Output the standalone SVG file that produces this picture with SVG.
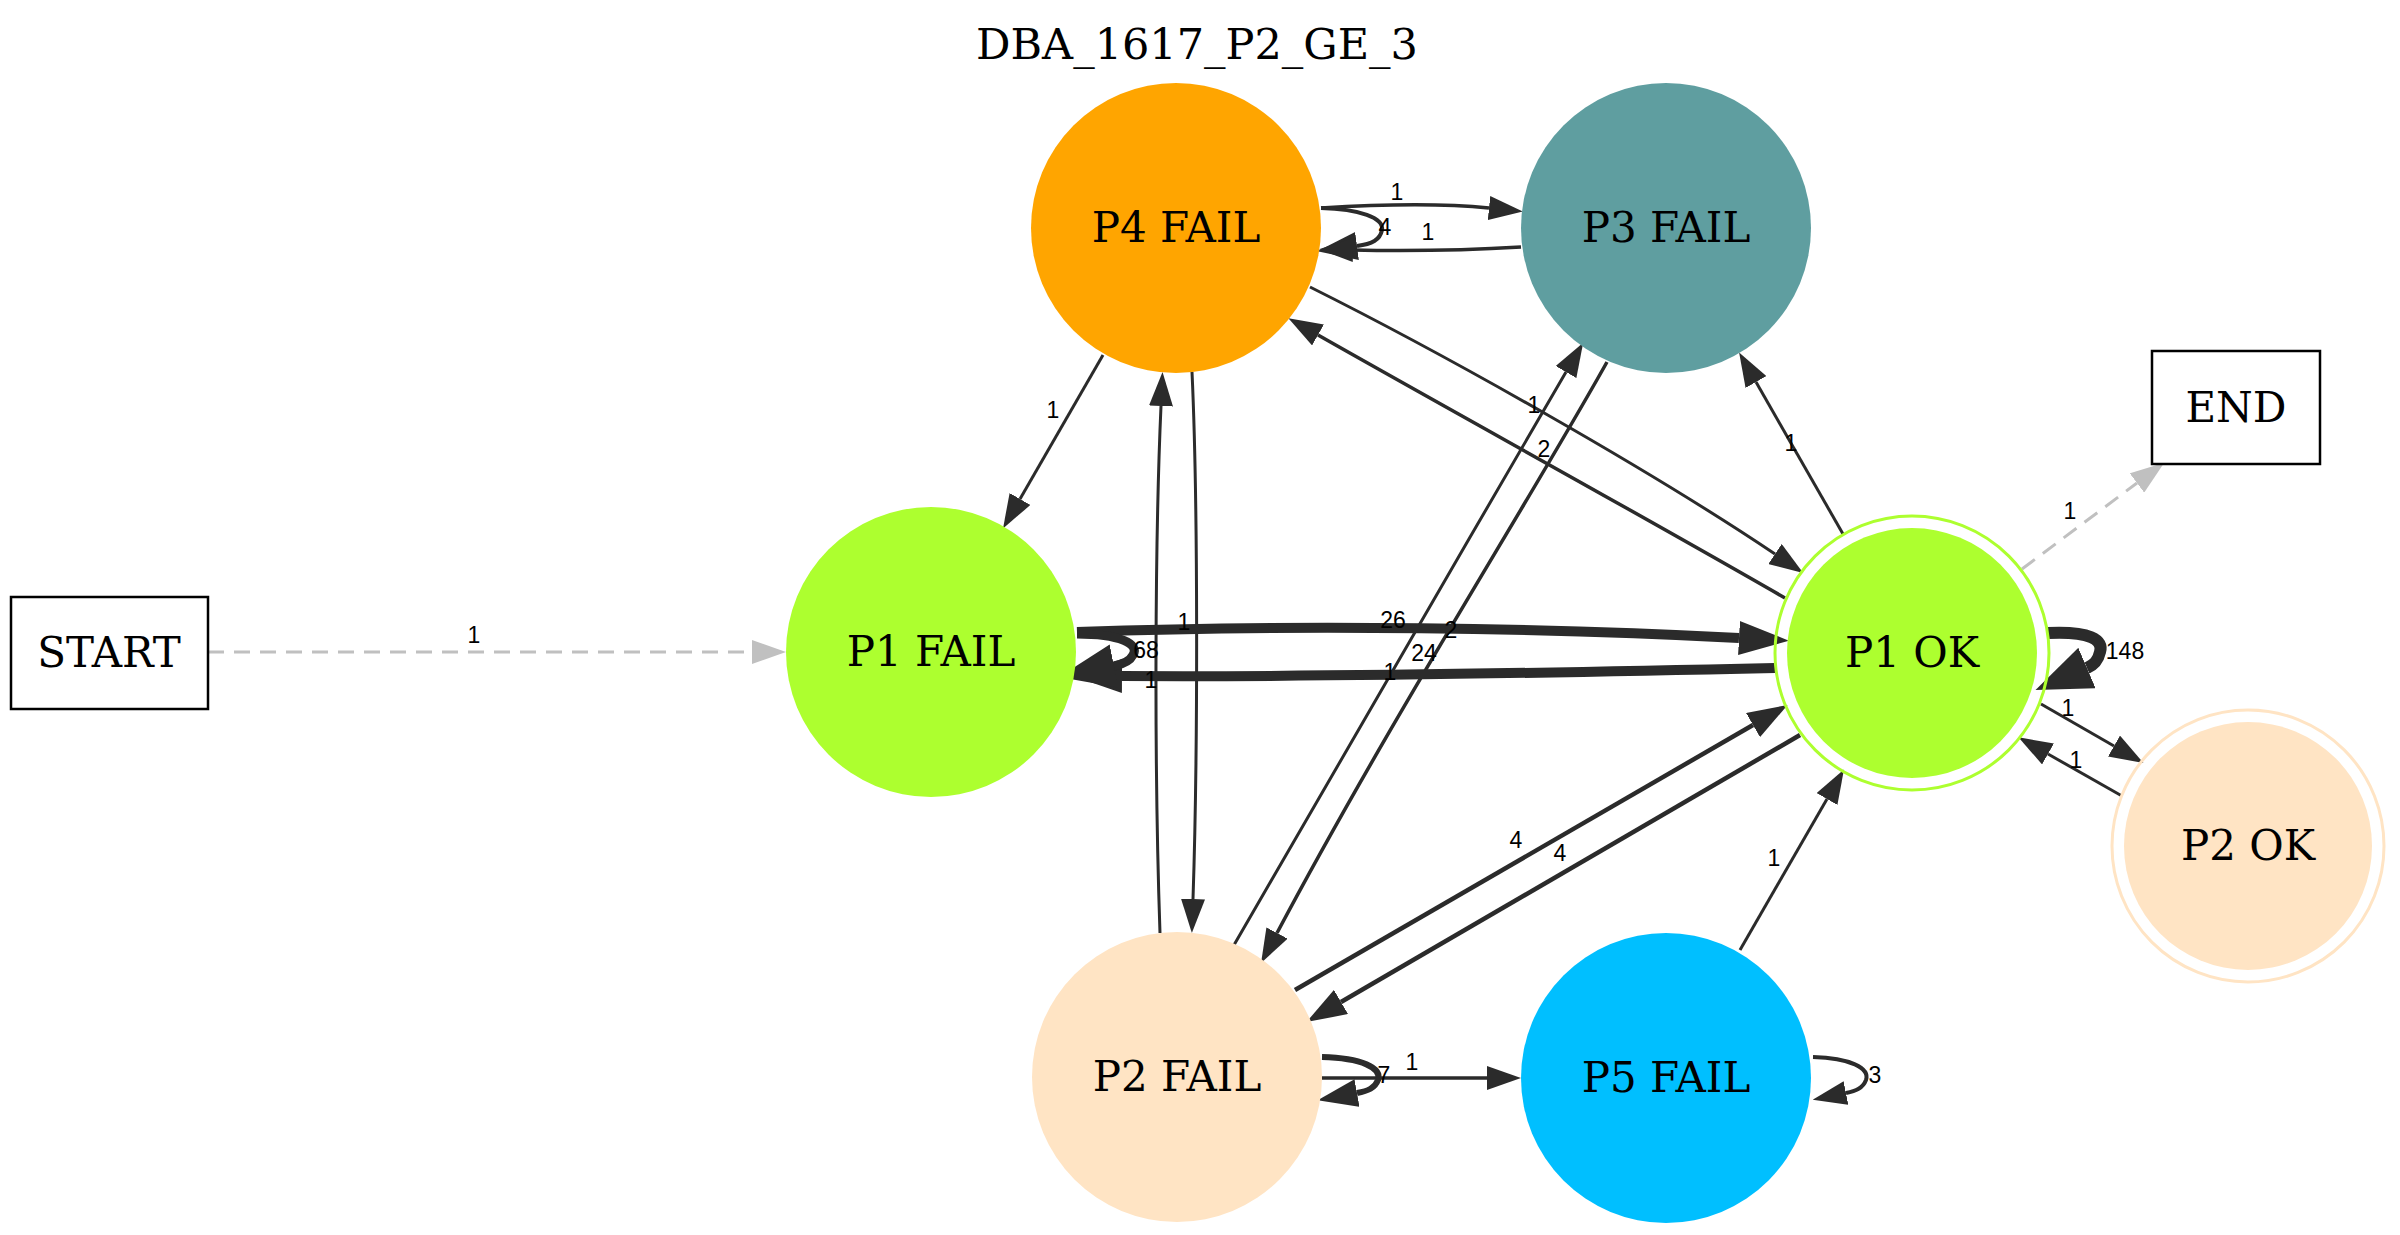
<svg xmlns="http://www.w3.org/2000/svg" width="2400" height="1235" viewBox="0 0 2400 1235">
<style>
.nt{font-family:"DejaVu Serif","Liberation Serif",serif;font-size:42px;text-anchor:middle;fill:#000}
.el{font-family:"Liberation Sans",Arial,sans-serif;font-size:23px;text-anchor:middle;fill:#000}
.e{fill:none;stroke:#2b2b2b;stroke-width:3}
.g{fill:none;stroke:#c0c0c0;stroke-width:3;stroke-dasharray:16,10}
.box{fill:#fff;stroke:#000;stroke-width:2.5}
</style>
<defs>
<marker id="a1" markerUnits="userSpaceOnUse" viewBox="0 0 34 24" markerWidth="34" markerHeight="24" refX="0" refY="12" orient="auto"><path d="M0,0 L34,12 L0,24 z" fill="#2b2b2b"/></marker>
<marker id="a2" markerUnits="userSpaceOnUse" viewBox="0 0 40 28" markerWidth="40" markerHeight="28" refX="0" refY="14" orient="auto"><path d="M0,0 L40,14 L0,28 z" fill="#2b2b2b"/></marker>
<marker id="a3" markerUnits="userSpaceOnUse" viewBox="0 0 50 34" markerWidth="50" markerHeight="34" refX="0" refY="17" orient="auto"><path d="M0,0 L50,17 L0,34 z" fill="#2b2b2b"/></marker>
<marker id="a4" markerUnits="userSpaceOnUse" viewBox="0 0 56 44" markerWidth="56" markerHeight="44" refX="0" refY="22" orient="auto"><path d="M0,0 L56,22 L0,44 z" fill="#2b2b2b"/></marker>
<marker id="ag" markerUnits="userSpaceOnUse" viewBox="0 0 34 24" markerWidth="34" markerHeight="24" refX="0" refY="12" orient="auto"><path d="M0,0 L34,12 L0,24 z" fill="#c0c0c0"/></marker>
</defs>
<rect width="2400" height="1235" fill="#fff"/>
<text class="nt" x="1197" y="59" style="font-size:43px">DBA_1617_P2_GE_3</text>

<g id="connectors">
<path class="g" d="M208,652 L752,652" marker-end="url(#ag)"/>
<path class="g" d="M2022,569 L2137,483" marker-end="url(#ag)"/>
<path class="e" style="stroke-width:4" d="M1321,208 C1360,209 1384,218 1382,230 C1380,240 1372,244 1357,246" marker-end="url(#a2)"/>
<path class="e" style="stroke-width:3.5" d="M1321,208 C1400,203 1450,204 1489,208" marker-end="url(#a1)"/>
<path class="e" style="stroke-width:3.5" d="M1521,247 C1470,250 1400,251 1353,250" marker-end="url(#a1)"/>
<path class="e" d="M1103,355 L1020,499" marker-end="url(#a1)"/>
<path class="e" d="M1310,287 C1450,357 1650,470 1775,554" marker-end="url(#a1)"/>
<path class="e" style="stroke-width:3.5" d="M1785,598 C1650,520 1450,410 1318,335" marker-end="url(#a1)"/>
<path class="e" d="M1843,534 L1756,382" marker-end="url(#a1)"/>
<path class="e" d="M1234,945 C1320,800 1450,570 1566,372" marker-end="url(#a1)"/>
<path class="e" style="stroke-width:3.5" d="M1607,362 C1530,500 1390,720 1277,933" marker-end="url(#a1)"/>
<path class="e" d="M1192,372 C1198,500 1198,750 1193,899" marker-end="url(#a1)"/>
<path class="e" d="M1160,933 C1154,760 1155,540 1161,406" marker-end="url(#a1)"/>
<path class="e" style="stroke-width:10" d="M1077,632 C1300,624 1550,628 1739,638" marker-end="url(#a3)"/>
<path class="e" style="stroke-width:10" d="M1775,668 C1550,673 1300,677 1122,676" marker-end="url(#a3)"/>
<path class="e" style="stroke-width:9" d="M1077,634 C1120,634 1140,644 1133,655 C1130,661 1124,664 1114,666" marker-end="url(#a4)"/>
<path class="e" style="stroke-width:12" d="M2048,633 C2090,631 2104,640 2100,652 C2098,661 2094,665 2087,668" marker-end="url(#a4)"/>
<path class="e" d="M2041,704 L2114,746" marker-end="url(#a1)"/>
<path class="e" d="M2122,796 L2048,754" marker-end="url(#a1)"/>
<path class="e" style="stroke-width:4.5" d="M1295,990 L1753,725" marker-end="url(#a2)"/>
<path class="e" style="stroke-width:4.5" d="M1800,735 L1341,1002" marker-end="url(#a2)"/>
<path class="e" d="M1740,950 L1827,799" marker-end="url(#a1)"/>
<path class="e" style="stroke-width:3.5" d="M1322,1078 L1487,1078" marker-end="url(#a1)"/>
<path class="e" style="stroke-width:6" d="M1322,1057 C1362,1058 1382,1068 1378,1080 C1375,1088 1368,1091 1357,1093" marker-end="url(#a2)"/>
<path class="e" style="stroke-width:4" d="M1813,1057 C1850,1058 1870,1068 1866,1080 C1863,1088 1856,1091 1846,1093" marker-end="url(#a1)"/>

<text class="el" x="474" y="643">1</text>
<text class="el" x="2070" y="519">1</text>
<text class="el" x="1385" y="235">4</text>
<text class="el" x="1397" y="200">1</text>
<text class="el" x="1428" y="240">1</text>
<text class="el" x="1053" y="418">1</text>
<text class="el" x="1534" y="413">1</text>
<text class="el" x="1544" y="457">2</text>
<text class="el" x="1791" y="451">1</text>
<text class="el" x="1393" y="628">26</text>
<text class="el" x="1424" y="661">24</text>
<text class="el" x="1146" y="658">68</text>
<text class="el" x="1184" y="630">1</text>
<text class="el" x="1151" y="688">1</text>
<text class="el" x="1451" y="638">2</text>
<text class="el" x="1390" y="680">1</text>
<text class="el" x="2125" y="659">148</text>
<text class="el" x="2068" y="716">1</text>
<text class="el" x="2076" y="768">1</text>
<text class="el" x="1774" y="866">1</text>
<text class="el" x="1516" y="848">4</text>
<text class="el" x="1560" y="861">4</text>
<text class="el" x="1384" y="1083">7</text>
<text class="el" x="1412" y="1070">1</text>
<text class="el" x="1875" y="1083">3</text>
</g>

<g id="START"><rect class="box" x="11" y="597" width="197" height="112"/><text class="nt" x="109" y="667">START</text></g>
<g id="END"><rect class="box" x="2152" y="351" width="168" height="113"/><text class="nt" x="2236" y="422">END</text></g>
<g id="P4FAIL"><circle cx="1176" cy="228" r="145" fill="#FFA500"/><text class="nt" x="1176" y="242">P4 FAIL</text></g>
<g id="P3FAIL"><circle cx="1666" cy="228" r="145" fill="#5F9EA0"/><text class="nt" x="1666" y="242">P3 FAIL</text></g>
<g id="P1FAIL"><circle cx="931" cy="652" r="145" fill="#ADFF2F"/><text class="nt" x="931" y="666">P1 FAIL</text></g>
<g id="P1OK"><circle cx="1912" cy="653" r="137" fill="none" stroke="#ADFF2F" stroke-width="3"/><circle cx="1912" cy="653" r="125" fill="#ADFF2F"/><text class="nt" x="1912" y="667">P1 OK</text></g>
<g id="P2OK"><circle cx="2248" cy="846" r="136" fill="none" stroke="#FFE4C4" stroke-width="3"/><circle cx="2248" cy="846" r="124" fill="#FFE4C4"/><text class="nt" x="2248" y="860">P2 OK</text></g>
<g id="P2FAIL"><circle cx="1177" cy="1077" r="145" fill="#FFE4C4"/><text class="nt" x="1177" y="1091">P2 FAIL</text></g>
<g id="P5FAIL"><circle cx="1666" cy="1078" r="145" fill="#00BFFF"/><text class="nt" x="1666" y="1092">P5 FAIL</text></g>
</svg>
